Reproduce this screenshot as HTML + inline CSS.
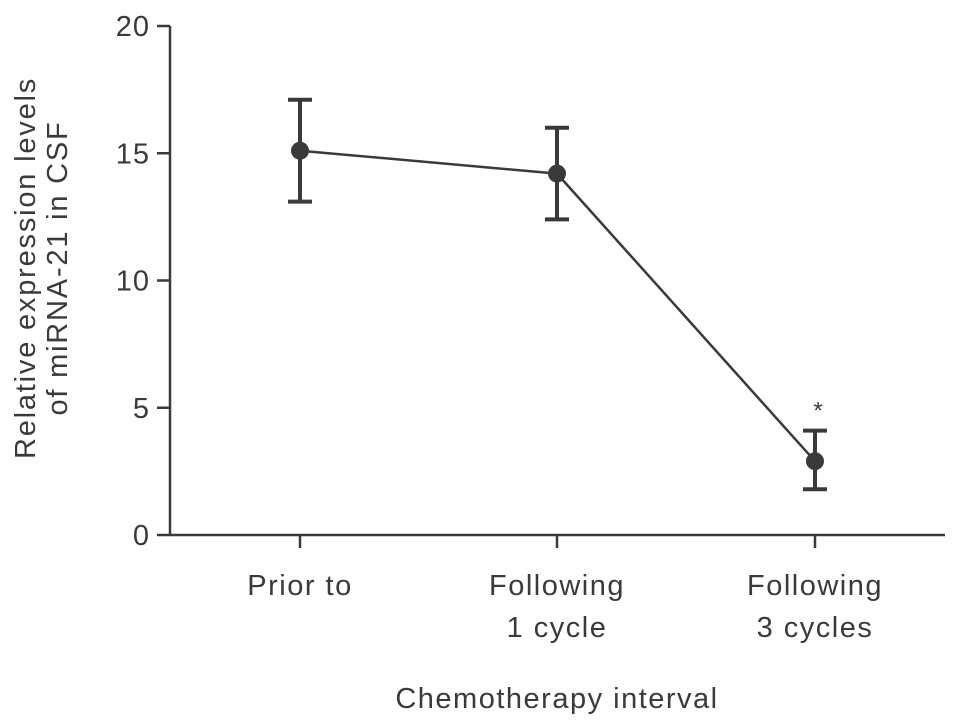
<!DOCTYPE html>
<html><head><meta charset="utf-8"><style>
html,body{margin:0;padding:0;background:#fff;}
svg{display:block;font-family:"Liberation Sans",Arial,sans-serif;}
</style></head><body>
<svg id="chart" width="969" height="728" viewBox="0 0 969 728">
<g id="axes"></g>
<g id="marks"></g>
<text transform="translate(35,268) rotate(-90)" text-anchor="middle" font-size="29" letter-spacing="1.8" fill="#3a3a3a"><tspan x="0" y="0">Relative expression levels</tspan><tspan x="0" y="32">of miRNA-21 in CSF</tspan></text>
<text x="557" y="708" text-anchor="middle" font-size="29" letter-spacing="1.5" fill="#3a3a3a">Chemotherapy interval</text>
</svg>
<script>
const categories = [["Prior to"], ["Following", "1 cycle"], ["Following", "3 cycles"]];
const means = [15.1, 14.2, 2.9];
const upper = [17.1, 16.0, 4.1];
const lower = [13.1, 12.4, 1.8];
const sigMarks = ["", "", "*"];
const yTicks = [0, 5, 10, 15, 20];

const NS = "http://www.w3.org/2000/svg";
const X0 = 170, X1 = 945, Y0 = 535, Y20 = 26;
const catX = [300, 557, 815];
function yScale(v){ return Y0 - (v / 20) * (Y0 - Y20); }
function xScale(i){ return catX[i]; }
function mk(tag, attrs, parent){
  const e = document.createElementNS(NS, tag);
  for (const k in attrs) e.setAttribute(k, attrs[k]);
  parent.appendChild(e); return e;
}
const axes = document.getElementById("axes");
const marks = document.getElementById("marks");
const col = "#3a3a3a";
let yl = mk("line", {x1:X0, y1:Y20, x2:X0, y2:Y0, stroke:col, "stroke-width":2.5}, axes);


let xl = mk("line", {x1:X0, y1:Y0, x2:X1, y2:Y0, stroke:col, "stroke-width":2.5}, axes);


yTicks.forEach(t => {
  const y = yScale(t);
  const tk = mk("line", {x1:X0-13, y1:y, x2:X0, y2:y, stroke:col, "stroke-width":2.5}, axes);
  
  
  const lb = mk("text", {x:X0-20, y:y+10, "text-anchor":"end", "font-size":29, "letter-spacing":1, fill:col}, axes);
  lb.textContent = t;
  
  
});
categories.forEach((c, i) => {
  const x = xScale(i);
  const tk = mk("line", {x1:x, y1:Y0, x2:x, y2:Y0+13, stroke:col, "stroke-width":2.5}, axes);
  
  
  const lb = mk("text", {x:x, "text-anchor":"middle", "font-size":29, "letter-spacing":1.5, fill:col}, axes);
  
  
  c.forEach((s, j) => {
    const ts = mk("tspan", {x:x, y:595 + j*42}, lb);
    ts.textContent = s;
  });
});
const pts = means.map((m, i) => xScale(i) + "," + yScale(m)).join(" ");
const pl = mk("polyline", {points:pts, fill:"none", stroke:col, "stroke-width":2.5}, marks);


means.forEach((m, i) => {
  const x = xScale(i), yu = yScale(upper[i]), yd = yScale(lower[i]);
  const g = mk("g", {}, marks);
  
  
  mk("line", {x1:x, y1:yu, x2:x, y2:yd, stroke:col, "stroke-width":4}, g);
  mk("line", {x1:x-12, y1:yu, x2:x+12, y2:yu, stroke:col, "stroke-width":4}, g);
  mk("line", {x1:x-12, y1:yd, x2:x+12, y2:yd, stroke:col, "stroke-width":4}, g);
  const p = mk("circle", {cx:x, cy:yScale(m), r:9, fill:col}, marks);
  
  
  if (sigMarks[i]) {
    const s = mk("text", {x:x+3, y:yu-12, "text-anchor":"middle", "font-size":24, fill:col}, marks);
    s.textContent = sigMarks[i];
    
    
  }
});
</script>
</body></html>
